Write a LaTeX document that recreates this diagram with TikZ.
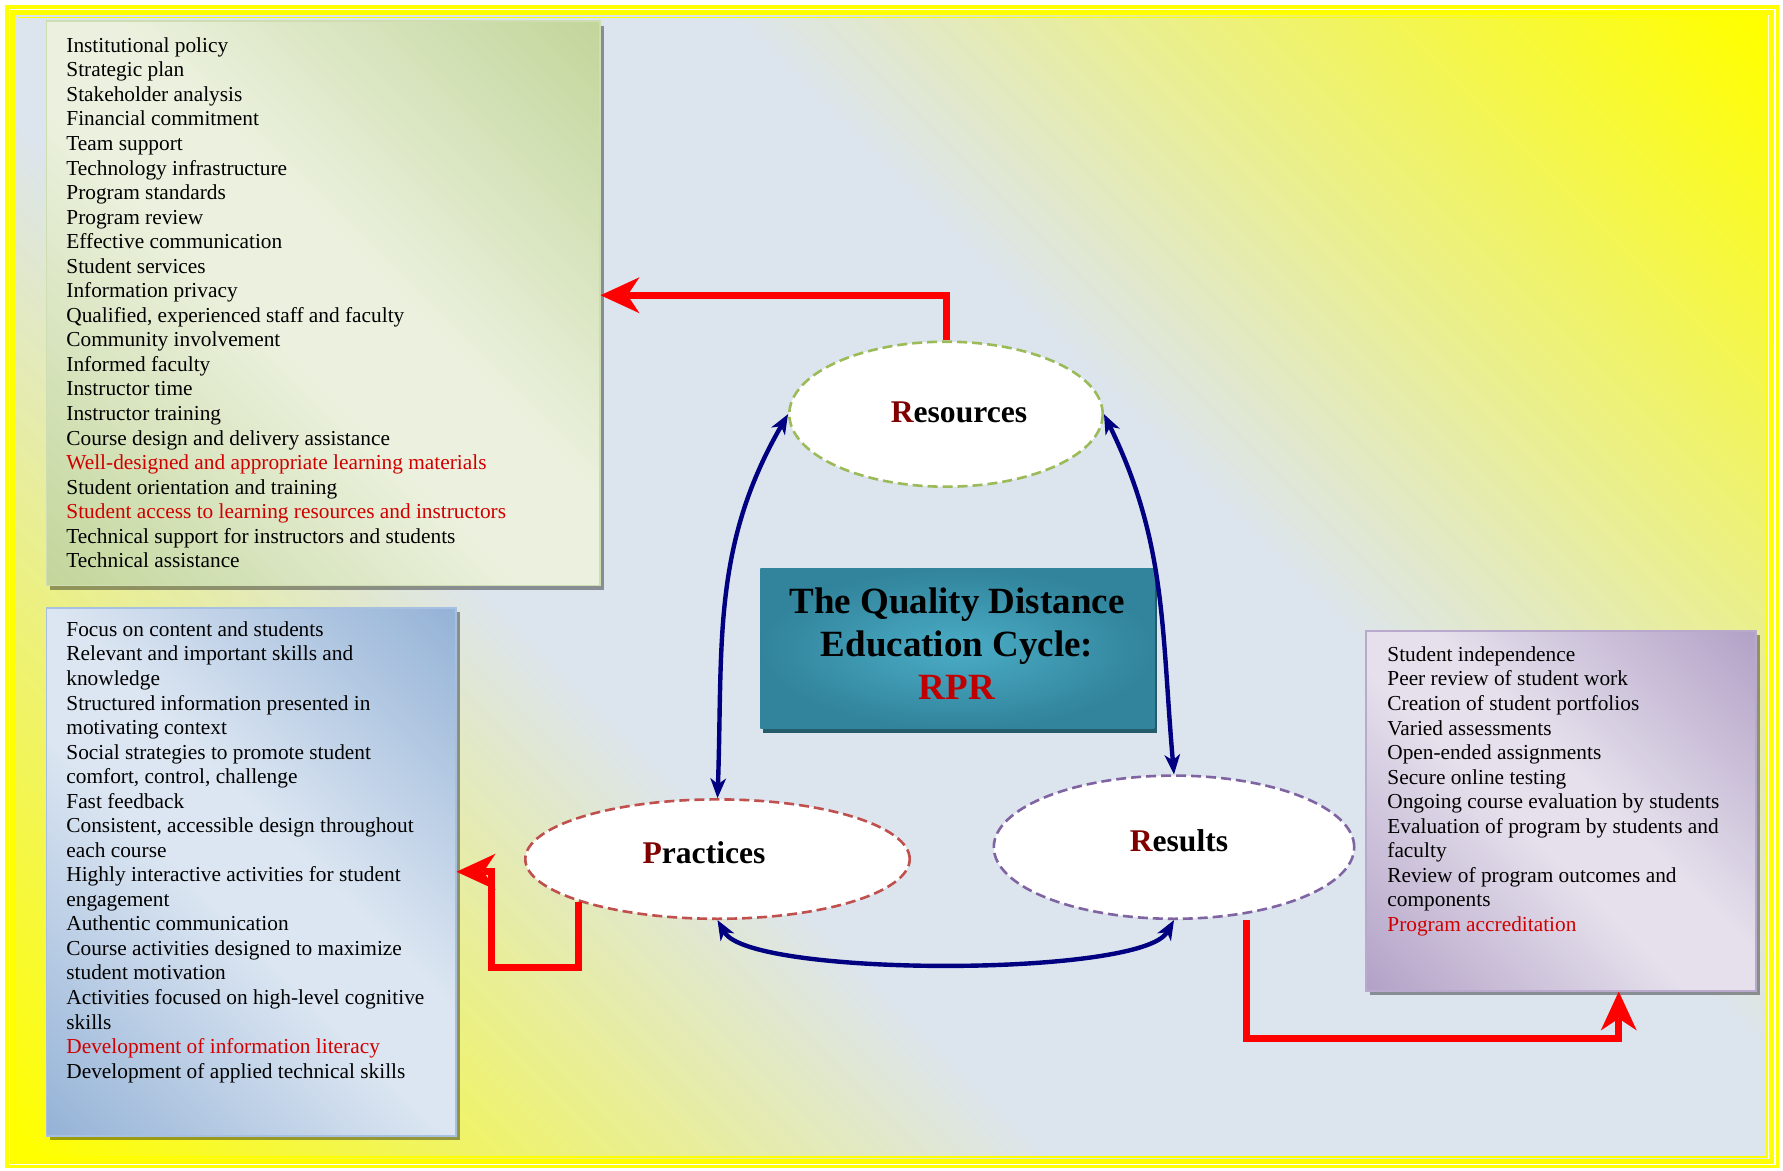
\documentclass[tikz,border=0pt]{standalone}
\usepackage{fontspec}
\setmainfont{Liberation Serif}
\usetikzlibrary{arrows.meta,shapes.geometric,shadows}

% palette
\definecolor{bgblue}{HTML}{DCE4EE}
\definecolor{frameyellow}{HTML}{FFFF00}
\definecolor{greendark}{HTML}{C3D69B}
\definecolor{greenlight}{HTML}{EBF1DE}
\definecolor{greenedge}{HTML}{CFDDB2}
\definecolor{bluedark}{HTML}{95B3D7}
\definecolor{bluelight}{HTML}{DCE6F2}
\definecolor{blueedge}{HTML}{A7C0DF}
\definecolor{purpledark}{HTML}{B3A2C7}
\definecolor{purplelight}{HTML}{E5E0EC}
\definecolor{purpleedge}{HTML}{B9A9CC}
\definecolor{tealedge}{HTML}{31849B}
\definecolor{tealglow}{HTML}{4BACC6}
\definecolor{tealshadow}{HTML}{245C6C}
\definecolor{navyline}{HTML}{000080}
\definecolor{hotred}{HTML}{FF0000}
\definecolor{listred}{HTML}{D00000}
\definecolor{initred}{HTML}{800000}
\definecolor{rprred}{HTML}{C00000}
\definecolor{resgreen}{HTML}{9BBB59}
\definecolor{pracred}{HTML}{C0504D}
\definecolor{respurple}{HTML}{8064A2}

% diagonal washes: strong colour in two opposite corners, pale band between
\pgfdeclareverticalshading{bgwash}{100bp}{color(0bp)=(frameyellow); color(15bp)=(frameyellow); color(40bp)=(bgblue); color(60bp)=(bgblue); color(85bp)=(frameyellow); color(100bp)=(frameyellow)}
\pgfdeclareverticalshading{greenwash}{100bp}{color(0bp)=(greendark); color(15bp)=(greendark); color(45bp)=(greenlight); color(55bp)=(greenlight); color(85bp)=(greendark); color(100bp)=(greendark)}
\pgfdeclareverticalshading{bluewash}{100bp}{color(0bp)=(bluedark); color(15bp)=(bluedark); color(45bp)=(bluelight); color(55bp)=(bluelight); color(85bp)=(bluedark); color(100bp)=(bluedark)}
\pgfdeclareverticalshading{purplewash}{100bp}{color(0bp)=(purpledark); color(15bp)=(purpledark); color(45bp)=(purplelight); color(55bp)=(purplelight); color(85bp)=(purpledark); color(100bp)=(purpledark)}

\tikzset{
  listbox/.style={rectangle, anchor=north west, inner sep=0pt, line width=0.75pt,
    shade, shading angle=-45,
    drop shadow={shadow xshift=2pt, shadow yshift=-2.25pt, fill=black, opacity=0.38}},
  listtext/.style={anchor=north west, inner sep=0pt, align=left,
    font=\fontsize{10.67}{12.27}\selectfont},
  stage/.style={ellipse, fill=white, line width=1.3pt, dash pattern=on 5pt off 2.5pt, inner sep=0pt},
  stagelabel/.style={anchor=base, inner sep=0pt, font=\bfseries\fontsize{15.8}{19}\selectfont},
  loopline/.style={draw=navyline, line width=2.2pt,
    {Stealth[length=10pt,width=8pt,inset=3pt,line width=0pt]}-{Stealth[length=10pt,width=8pt,inset=3pt,line width=0pt]}},
  feedline/.style={draw=hotred, line width=3.5pt, line join=miter,
    -{Stealth[length=19.5pt,width=18pt,inset=6pt,line width=0pt]}}
}

\begin{document}
\begin{tikzpicture}[x=0.5pt, y=0.5pt]
\useasboundingbox (0,0) rectangle (1783,-1171);
\fill[white] (0,0) rectangle (1783,-1171);

% background and yellow frame
\shade[shading=bgwash, shading angle=-45] (15,-15) rectangle (1768,-1159);
\draw[frameyellow, line width=1.6pt] (7,-7) rectangle (1777.5,-1166.5);
\draw[frameyellow, line width=2.4pt] (12.8,-12.8) rectangle (1771.8,-1161.5);
\draw[frameyellow, line width=0.8pt] (17.5,-17.5) rectangle (1766,-1157);

% list panels
\node[listbox, shading=greenwash, draw=greenedge, minimum width=276.75pt, minimum height=282pt] (green) at (45.5,-20.5) {};
\node[listbox, shading=bluewash, draw=blueedge, minimum width=204.75pt, minimum height=264pt] (blue) at (45.5,-607) {};
\node[listbox, shading=purplewash, draw=purpleedge, minimum width=195pt, minimum height=180pt] (purple) at (1365,-630) {};

\node[listtext] (greenlist) at (66,-34.8) {\strut Institutional policy\\
Strategic plan\\
Stakeholder analysis\\
Financial commitment\\
Team support\\
Technology infrastructure\\
Program standards\\
Program review\\
Effective communication\\
Student services\\
Information privacy\\
Qualified, experienced staff and faculty\\
Community involvement\\
Informed faculty\\
Instructor time\\
Instructor training\\
Course design and delivery assistance\\
\textcolor{listred}{Well-designed and appropriate learning materials}\\
Student orientation and training\\
\textcolor{listred}{Student access to learning resources and instructors}\\
Technical support for instructors and students\\
Technical assistance};

\node[listtext] (bluelist) at (66,-618.8) {\strut Focus on content and students\\
Relevant and important skills and\\
knowledge\\
Structured information presented in\\
motivating context\\
Social strategies to promote student\\
comfort, control, challenge\\
Fast feedback\\
Consistent, accessible design throughout\\
each course\\
Highly interactive activities for student\\
engagement\\
Authentic communication\\
Course activities designed to maximize\\
student motivation\\
Activities focused on high-level cognitive\\
skills\\
\textcolor{listred}{Development of information literacy}\\
Development of applied technical skills};

\node[listtext] (purplelist) at (1387,-643.8) {\strut Student independence\\
Peer review of student work\\
Creation of student portfolios\\
Varied assessments\\
Open-ended assignments\\
Secure online testing\\
Ongoing course evaluation by students\\
Evaluation of program by students and\\
faculty\\
Review of program outcomes and\\
components\\
\textcolor{listred}{Program accreditation}};

% central title panel
\node[rectangle, anchor=north west, inner sep=0pt, minimum width=197pt, minimum height=80pt,
  inner color=tealglow, outer color=tealedge,
  drop shadow={shadow xshift=1.35pt, shadow yshift=-2.25pt, fill=tealshadow, opacity=1}] (core) at (760,-568.3) {};
\node[anchor=north, inner sep=0pt, align=center, font=\bfseries\fontsize{18.5}{21.5}\selectfont] (coretext) at (957,-582.6)
  {\strut The Quality Distance\\Education Cycle:\\\textcolor{rprred}{RPR}};

% the three stages
\node[stage, draw=resgreen, minimum width=156.7pt, minimum height=72.5pt] (res) at (946,-414.2) {};
\node[stage, draw=pracred, minimum width=192.2pt, minimum height=59.7pt] (prac) at (717.5,-859.1) {};
\node[stage, draw=respurple, minimum width=180.2pt, minimum height=71.6pt] (resl) at (1174,-847.2) {};
\node[stagelabel] (resname) at (959,-422.3) {\textcolor{initred}{R}esources};
\node[stagelabel] (pracname) at (704,-863.5) {\textcolor{initred}{P}ractices};
\node[stagelabel] (reslname) at (1179,-851) {\textcolor{initred}{R}esults};

% cycle between the stages
\draw[loopline] (prac.north) to[out=88, in=240] (res.west);
\draw[loopline] (res.east) to[out=-64, in=95] (resl.north);
\draw[loopline] (prac.south) to[out=-60, in=-120, looseness=0.37] (resl.south);

% each stage feeds its list
\draw[feedline] (res.north) |- ([yshift=4pt]green.east);
\draw[feedline] (prac.197.3) -- ++(0,-66.3) -| ([xshift=17.35pt]blue.east) -- (blue.east);
\draw[feedline] ([xshift=36pt]resl.south) -- ++(0,-118.7) -| ([xshift=29pt]purple.south);
\end{tikzpicture}
\end{document}
